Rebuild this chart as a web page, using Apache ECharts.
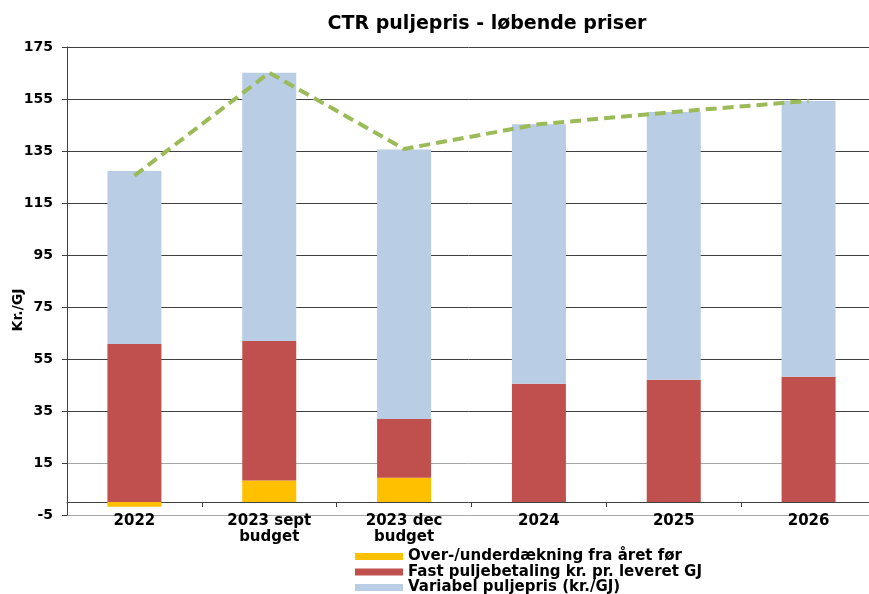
<!DOCTYPE html>
<html>
<head>
<meta charset="utf-8">
<script src="https://cdn.jsdelivr.net/npm/echarts@6/dist/echarts.min.js"></script>
<style>
  html, body { margin: 0; padding: 0; background: #fff; }
</style>
</head>
<body>
<div id="chart" style="width: 869px; height: 594px;"></div>
<script>
// data
const categories = ['2022', '2023 sept\nbudget', '2023 dec\nbudget', '2024', '2025', '2026'];
const overUnder = [-1.8, 8.3, 9.3, 0, 0, 0];
const fastBetaling = [60.8, 53.6, 22.6, 45.5, 47.0, 48.2];
const variabelPris = [66.5, 103.2, 103.7, 99.8, 103.0, 106.0];
const totalPris = [125.5, 165.1, 135.8, 145.3, 150.0, 154.3];
const yTicks = { min: -5, max: 175, step: 20 };

const seriesNames = [
  'Over-/underdækning fra året før',
  'Fast puljebetaling kr. pr. leveret GJ',
  'Variabel puljepris (kr./GJ)',
];

const font = 'DejaVu Sans';
const dark = '#404040';
const light = '#a6a6a6';

var myChart = echarts.init(document.getElementById('chart'));

// one legend per row so the three items stack without wrapping
const legendRows = seriesNames.map((name, i) => ({
  orient: 'vertical',
  left: 355,
  top: 549 + i * 15.5,
  padding: 0,
  itemWidth: 48,
  itemHeight: 7,
  icon: 'rect',
  data: [name],
  textStyle: { fontFamily: font, fontSize: 15, fontWeight: 'bold', color: '#000' },
}));

const option = {
  animation: false,
  title: {
    text: 'CTR puljepris - løbende priser',
    left: 482,
    textAlign: 'center',
    top: 10,
    textStyle: { fontFamily: font, fontSize: 19, fontWeight: 'bold', color: '#000' },
  },
  legend: legendRows,
  grid: {
    left: 67,
    top: 47,
    width: 809,
    height: 468,
    outerBoundsMode: 'none',
    containLabel: false,
  },
  xAxis: {
    type: 'category',
    data: categories,
    axisLine: { onZero: true, lineStyle: { color: dark, width: 1 } },
    axisTick: { show: true, length: 5, lineStyle: { color: dark } },
    axisLabel: {
      margin: -2,
      fontFamily: font,
      fontSize: 15,
      fontWeight: 'bold',
      color: '#000',
      lineHeight: 16,
    },
  },
  yAxis: {
    type: 'value',
    min: yTicks.min,
    max: yTicks.max,
    interval: yTicks.step,
    name: 'Kr./GJ',
    nameLocation: 'middle',
    nameGap: 42,
    nameMoveOverlap: false,
    nameRotate: 90,
    nameTextStyle: {
      fontFamily: font,
      fontSize: 14,
      fontWeight: 'bold',
      color: '#000',
      padding: [0, 58, 0, 0],
    },
    axisLine: { show: true, lineStyle: { color: dark } },
    axisTick: { show: true, length: 5, lineStyle: { color: dark } },
    axisLabel: { margin: 14, fontFamily: font, fontSize: 14, fontWeight: 'bold', color: '#000' },
    splitLine: {
      show: true,
      lineStyle: {
        color: [light, light, dark, dark, dark, dark, dark, dark, dark, dark],
        width: 1,
      },
    },
  },
  series: [
    {
      name: seriesNames[0],
      type: 'bar',
      stack: 'pris',
      barWidth: 54,
      itemStyle: { color: '#ffc000' },
      data: overUnder,
    },
    {
      name: seriesNames[1],
      type: 'bar',
      stack: 'pris',
      barWidth: 54,
      itemStyle: { color: '#c0504d' },
      data: fastBetaling,
    },
    {
      name: seriesNames[2],
      type: 'bar',
      stack: 'pris',
      barWidth: 54,
      itemStyle: { color: '#b9cde5' },
      data: variabelPris,
    },
    {
      name: 'CTR puljepris',
      type: 'line',
      showSymbol: false,
      symbol: 'none',
      z: 5,
      lineStyle: { color: '#9bbb59', width: 4, type: [11, 6] },
      data: totalPris,
    },
  ],
};

myChart.setOption(option, true);
</script>
</body>
</html>
